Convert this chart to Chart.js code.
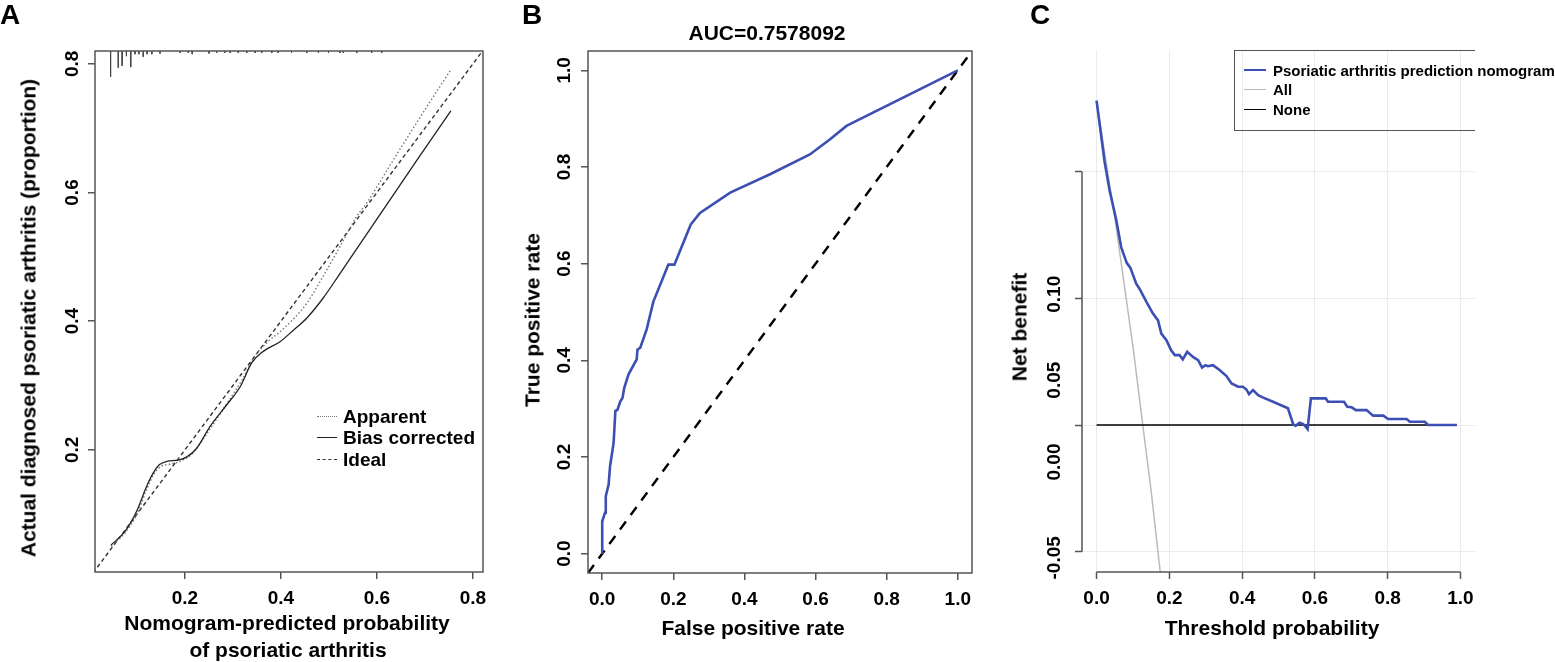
<!DOCTYPE html>
<html lang="en">
<head>
<meta charset="UTF-8">
<title>Calibration, ROC and decision curve</title>
<style>
  body {
    margin: 0;
    width: 1555px;
    height: 662px;
    overflow: hidden;
    position: relative;
    background: #fff;
    color: #000;
    font-family: "Liberation Sans", Arial, sans-serif;
    font-weight: bold;
  }
  canvas { position: absolute; top: 0; }
  .t {
    position: absolute;
    white-space: nowrap;
    line-height: 1;
    transform: translate(-50%, -50%);
  }
  .v { transform: translate(-50%, -50%) rotate(-90deg); }
  .panel { font-size: 28px; }
  .ttl { font-size: 21px; }
  .row {
    position: absolute;
    display: flex;
    align-items: center;
    height: 20px;
    white-space: nowrap;
    line-height: 1;
  }
  .row span.s { display: inline-block; height: 0; margin-right: 6px; }
  #legA .row { font-size: 19px; }
  #legC {
    position: absolute;
    left: 1234px; top: 50px;
    width: 241px; height: 81px;
    box-sizing: border-box;
    border: 1.5px solid #555;
    border-right: none;
  }
  #legC .row { font-size: 15px; left: 9px; }
  #legC .row span.s { width: 22px; margin-right: 7px; }
</style>
</head>
<body>
  <canvas id="calA" width="520" height="662" style="left:0"></canvas>
  <canvas id="rocB" width="520" height="662" style="left:520px"></canvas>
  <canvas id="dcaC" width="515" height="662" style="left:1040px"></canvas>

  <!-- panel letters -->
  <div class="t panel" style="left:10px;top:15px">A</div>
  <div class="t panel" style="left:532px;top:15px">B</div>
  <div class="t panel" style="left:1040px;top:15px">C</div>

  <!-- axis titles -->
  <div class="t ttl" style="left:287px;top:622px">Nomogram-predicted probability</div>
  <div class="t ttl" style="left:288px;top:649px">of psoriatic arthritis</div>
  <div class="t ttl v" style="left:28px;top:318px">Actual diagnosed psoriatic arthritis (proportion)</div>

  <div class="t ttl" style="left:767px;top:32px">AUC=0.7578092</div>
  <div class="t ttl" style="left:753px;top:627px">False positive rate</div>
  <div class="t ttl v" style="left:532px;top:320px">True positive rate</div>

  <div class="t ttl" style="left:1272px;top:627px">Threshold probability</div>
  <div class="t ttl v" style="left:1019px;top:327px">Net benefit</div>

  <!-- legends -->
  <div id="legA">
    <div class="row" style="left:317px;top:406px"><span class="s" style="width:20px;border-top:1.5px dotted #777"></span>Apparent</div>
    <div class="row" style="left:317px;top:427px"><span class="s" style="width:20px;border-top:1.3px solid #222"></span>Bias corrected</div>
    <div class="row" style="left:317px;top:449px"><span class="s" style="width:20px;border-top:1.5px dashed #333"></span>Ideal</div>
  </div>
  <div id="legC">
    <div class="row" style="top:9px"><span class="s" style="border-top:2.5px solid #3C4FB2"></span>Psoriatic arthritis prediction nomogram</div>
    <div class="row" style="top:28px"><span class="s" style="border-top:1.5px solid #BBBBBB"></span>All</div>
    <div class="row" style="top:48px"><span class="s" style="border-top:1.5px solid #000"></span>None</div>
  </div>

  <script src="https://cdn.jsdelivr.net/npm/chart.js"></script>
  <script>
    // ---- A: calibration curve ----
    const aTicks = [0.2, 0.4, 0.6, 0.8];
    // rug of predicted probabilities along the top edge (x, tick length)
    const rugX = [0.045, 0.061, 0.069, 0.078, 0.087, 0.096, 0.104, 0.113, 0.121, 0.131,
                  0.148, 0.190, 0.207, 0.215, 0.250, 0.266, 0.283, 0.294, 0.311, 0.329,
                  0.346, 0.360, 0.381, 0.394, 0.422, 0.454, 0.478, 0.499, 0.523, 0.530,
                  0.558, 0.589, 0.610];
    const rugLen = [0.040, 0.026, 0.023, 0.008, 0.025, 0.005, 0.005, 0.009, 0.005, 0.005,
                    0.004, 0.003, 0.003, 0.005, 0.004, 0.003, 0.003, 0.003, 0.003, 0.003,
                    0.003, 0.003, 0.003, 0.003, 0.003, 0.003, 0.003, 0.003, 0.003, 0.003,
                    0.003, 0.003, 0.003];
    const appX = [0.046, 0.075, 0.100, 0.120, 0.135, 0.150, 0.170, 0.190, 0.215, 0.250, 0.290, 0.320,
                  0.345, 0.370, 0.405, 0.454, 0.488, 0.523, 0.558, 0.579, 0.627, 0.690, 0.754];
    const appY = [0.050, 0.071, 0.100, 0.138, 0.162, 0.174, 0.178, 0.182, 0.194, 0.230, 0.275, 0.310,
                  0.345, 0.366, 0.388, 0.428, 0.470, 0.516, 0.563, 0.584, 0.642, 0.717, 0.791];
    const biasX = [0.046, 0.075, 0.099, 0.120, 0.134, 0.147, 0.162, 0.186, 0.204, 0.224, 0.252, 0.287,
                   0.315, 0.339, 0.363, 0.398, 0.426, 0.454, 0.488, 0.523, 0.572, 0.613, 0.683, 0.754];
    const biasY = [0.052, 0.073, 0.104, 0.143, 0.164, 0.177, 0.182, 0.184, 0.189, 0.202, 0.236, 0.270,
                   0.298, 0.335, 0.353, 0.368, 0.386, 0.405, 0.436, 0.474, 0.528, 0.573, 0.650, 0.727];
    const idealX = [0, 1];
    const idealY = [0, 1];

    // ---- B: ROC curve ----
    const bTicks = [0, 0.2, 0.4, 0.6, 0.8, 1.0];
    const rocFpr = [0, 0, 0.008, 0.010, 0.018, 0.022, 0.032, 0.037, 0.043, 0.051, 0.057, 0.062, 0.074,
                    0.097, 0.099, 0.107, 0.125, 0.144, 0.154, 0.186, 0.203, 0.249, 0.275, 0.360,
                    0.472, 0.584, 0.640, 0.687, 1.000];
    const rocTpr = [0, 0.067, 0.085, 0.119, 0.143, 0.181, 0.229, 0.295, 0.298, 0.315, 0.322, 0.343, 0.371,
                    0.402, 0.422, 0.426, 0.464, 0.522, 0.540, 0.598, 0.598, 0.681, 0.705, 0.747,
                    0.785, 0.826, 0.857, 0.885, 1.000];
    const diagX = [-0.1, 1.1];
    const diagY = [-0.1, 1.1];

    // ---- C: decision curve ----
    const cXTicks = [0, 0.2, 0.4, 0.6, 0.8, 1.0];
    const cYTicks = [-0.05, 0, 0.05, 0.10];
    // tick labels sit where the original figure printed them
    const cLabels = ['-0.05', '0.00', '0.05', '0.10'];
    const cLabelAt = [-0.0524, -0.0146, 0.0177, 0.0516];
    const nomoX = [0, 0.022, 0.036, 0.054, 0.068, 0.083, 0.093, 0.109, 0.118, 0.137, 0.155, 0.169, 0.178,
                   0.192, 0.205, 0.215, 0.228, 0.237, 0.249, 0.265, 0.279, 0.290, 0.299, 0.306, 0.320,
                   0.338, 0.357, 0.371, 0.389, 0.402, 0.412, 0.419, 0.430, 0.444, 0.458, 0.485, 0.526,
                   0.540, 0.547, 0.558, 0.568, 0.580, 0.589, 0.630, 0.636, 0.680, 0.689, 0.701, 0.713,
                   0.742, 0.760, 0.788, 0.801, 0.852, 0.861, 0.902, 0.911, 0.990];
    const nomoY = [0.128, 0.104, 0.0925, 0.081, 0.070, 0.064, 0.062, 0.0558, 0.0538, 0.0486, 0.0440, 0.0413, 0.0361,
                   0.0335, 0.0295, 0.0276, 0.0276, 0.0259, 0.0289, 0.0269, 0.0256, 0.0227, 0.0236, 0.0232, 0.0236,
                   0.0217, 0.0193, 0.0164, 0.0151, 0.0151, 0.0140, 0.0122, 0.0138, 0.0118, 0.0108, 0.0092, 0.0066,
                   0.0004, -0.0003, 0.0009, 0.0004, -0.0016, 0.0105, 0.0105, 0.0092, 0.0092, 0.0072, 0.0070, 0.0059,
                   0.0059, 0.0037, 0.0037, 0.0024, 0.0024, 0.0013, 0.0013, 0, 0];
    const allX = [0, 0.05, 0.10, 0.127, 0.15, 0.175];
    const allY = [0.128, 0.082, 0.031, 0, -0.026, -0.058];
    const noneX = [0, 0.99];
    const noneY = [0, 0];

    const BLUE = '#3C4FB2';
    const AXIS = '#555';
    const tickFont = { family: 'Liberation Sans', size: 19, weight: 'bold' };

    const pts = (xs, ys) => xs.map((x, i) => ({ x, y: ys[i] }));
    const fixTicks = vals => s => { s.ticks = vals.map(v => ({ value: v })); };

    // box round the plot area, or R-style axis lines that stop at the end ticks
    const frame = {
      id: 'frame',
      afterDatasetsDraw(chart, args, opts) {
        const { ctx, chartArea: a, scales } = chart;
        ctx.save();
        ctx.strokeStyle = AXIS;
        ctx.lineWidth = 1.5;
        if (opts.box) {
          ctx.strokeRect(a.left, a.top, a.right - a.left, a.bottom - a.top);
        } else {
          const xt = scales.x.ticks, yt = scales.y.ticks;
          ctx.beginPath();
          ctx.moveTo(scales.x.getPixelForValue(xt[0].value), a.bottom);
          ctx.lineTo(scales.x.getPixelForValue(xt[xt.length - 1].value), a.bottom);
          ctx.moveTo(a.left, scales.y.getPixelForValue(yt[0].value));
          ctx.lineTo(a.left, scales.y.getPixelForValue(yt[yt.length - 1].value));
          ctx.stroke();
        }
        ctx.restore();
      }
    };

    function xAxis(min, max, ticks, h, pad) {
      return {
        type: 'linear', min, max,
        afterBuildTicks: fixTicks(ticks),
        afterFit: s => { s.height = h; },
        ticks: { font: tickFont, color: '#000', padding: pad, autoSkip: false, maxRotation: 0,
                 callback: v => v.toFixed(1) },
        grid: { drawOnChartArea: false, color: AXIS, lineWidth: 1.5, tickLength: 7 },
        border: { display: false }
      };
    }
    function yAxis(min, max, ticks, w, pad) {
      return {
        type: 'linear', min, max,
        afterBuildTicks: fixTicks(ticks),
        afterFit: s => { s.width = w; },
        ticks: { font: tickFont, color: '#000', padding: pad, autoSkip: false,
                 minRotation: 90, maxRotation: 90, crossAlign: 'center',
                 callback: v => v.toFixed(1) },
        grid: { drawOnChartArea: false, color: AXIS, lineWidth: 1.5, tickLength: 7 },
        border: { display: false }
      };
    }
    const common = {
      responsive: false,
      animation: false,
      plugins: { legend: { display: false }, tooltip: { enabled: false } },
      elements: { point: { radius: 0 } }
    };

    // A
    const aYMax = 0.820;
    const rugPts = [];
    rugX.forEach((x, i) => {
      rugPts.push({ x, y: aYMax }, { x, y: aYMax - rugLen[i] }, { x, y: null });
    });
    new Chart(document.getElementById('calA'), {
      type: 'scatter',
      data: {
        datasets: [
          { data: pts(biasX, biasY), showLine: true, borderColor: '#222', borderWidth: 1.3,
            cubicInterpolationMode: 'monotone' },
          { data: pts(appX, appY), showLine: true, borderColor: '#777', borderWidth: 1.4,
            borderDash: [1.5, 2.2], cubicInterpolationMode: 'monotone' },
          { data: pts(idealX, idealY), showLine: true, borderColor: '#333', borderWidth: 1.4,
            borderDash: [4, 3] },
          { data: rugPts, showLine: true, spanGaps: false, borderColor: '#444', borderWidth: 1 }
        ]
      },
      options: {
        ...common,
        layout: { padding: { top: 51, right: 37, left: 0, bottom: 0 } },
        scales: {
          x: xAxis(0.0125, 0.821, aTicks, 90, 8),
          y: yAxis(0.010, aYMax, aTicks, 95, 2)
        },
        plugins: { ...common.plugins, frame: { box: true } }
      },
      plugins: [frame]
    });

    // B
    new Chart(document.getElementById('rocB'), {
      type: 'scatter',
      data: {
        datasets: [
          { data: pts(rocFpr, rocTpr), showLine: true, borderColor: BLUE, borderWidth: 2.6 },
          { data: pts(diagX, diagY), showLine: true, borderColor: '#000', borderWidth: 2.4,
            borderDash: [10, 8] }
        ]
      },
      options: {
        ...common,
        layout: { padding: { top: 51, right: 68, left: 0, bottom: 0 } },
        scales: {
          x: xAxis(-0.04, 1.04, bTicks, 89, 8),
          y: yAxis(-0.04, 1.04, bTicks, 68, 3)
        },
        plugins: { ...common.plugins, frame: { box: true } }
      },
      plugins: [frame]
    });

    // C
    const cx = xAxis(-0.04, 1.04, cXTicks, 90, 8);
    cx.grid = { drawOnChartArea: true, color: '#EBEBEB', lineWidth: 1, tickColor: AXIS, tickWidth: 1.5, tickLength: 7 };
    const cy = yAxis(-0.058, 0.148, cYTicks, 4, 0);
    cy.ticks = { display: false };
    cy.grid = { drawOnChartArea: true, color: '#EBEBEB', lineWidth: 1, tickColor: AXIS, tickWidth: 1.5, tickLength: 7 };
    cy.weight = 0;
    const cyl = {
      type: 'linear', position: 'left', weight: 1, min: -0.058, max: 0.148,
      afterBuildTicks: fixTicks(cLabelAt),
      afterFit: s => { s.width = 38; },
      ticks: { font: tickFont, color: '#000', padding: 1.5, autoSkip: false,
               minRotation: 90, maxRotation: 90, crossAlign: 'center',
               callback: (v, i) => cLabels[i] },
      grid: { display: false, drawTicks: false },
      border: { display: false }
    };
    new Chart(document.getElementById('dcaC'), {
      type: 'scatter',
      data: {
        datasets: [
          { data: pts(nomoX, nomoY), showLine: true, borderColor: BLUE, borderWidth: 2.6 },
          { data: pts(noneX, noneY), showLine: true, borderColor: '#000', borderWidth: 1.5 },
          { data: pts(allX, allY), showLine: true, borderColor: '#BBBBBB', borderWidth: 1.5 }
        ]
      },
      options: {
        ...common,
        layout: { padding: { top: 50, right: 80, left: 0, bottom: 0 } },
        scales: { x: cx, y: cy, yl: cyl },
        plugins: { ...common.plugins, frame: { box: false } }
      },
      plugins: [frame]
    });
  </script>
</body>
</html>
